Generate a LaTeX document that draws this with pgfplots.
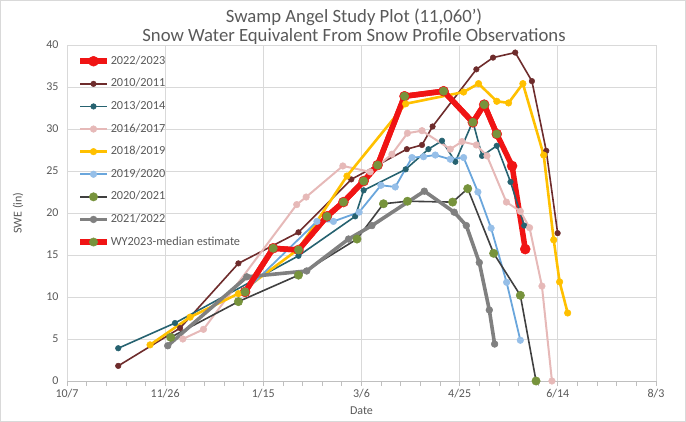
\documentclass[border=0pt]{standalone}
\usepackage{fontspec}
\setmainfont{Carlito}
\usepackage{pgfplots}
\pgfplotsset{compat=1.18}

\definecolor{txtgray}{HTML}{595959}
\definecolor{gridgray}{HTML}{D9D9D9}
\definecolor{axgray}{HTML}{BFBFBF}
\definecolor{cRed}{HTML}{F01414}
\definecolor{cMaroon}{HTML}{6E2C2C}
\definecolor{cTeal}{HTML}{266270}
\definecolor{cPink}{HTML}{E6B9B8}
\definecolor{cGold}{HTML}{FFC000}
\definecolor{cBlue}{HTML}{6AA6DC}
\definecolor{cBlueM}{HTML}{96BFE8}
\definecolor{cDark}{HTML}{404040}
\definecolor{cOlive}{HTML}{77933C}
\definecolor{cGray}{HTML}{808080}

\begin{document}
\begin{tikzpicture}
\useasboundingbox (0,0) rectangle (686bp,422bp);
\draw[gridgray] (0.5bp,0.5bp) rectangle (685.5bp,421.5bp);
\node[text=txtgray, font=\fontsize{18.7bp}{22bp}\selectfont] at (354bp,405bp) {Swamp Angel Study Plot (11,060')};
\node[text=txtgray, font=\fontsize{18.7bp}{22bp}\selectfont] at (354bp,385bp) {Snow Water Equivalent From Snow Profile Observations};
\begin{axis}[
    at={(67bp,41bp)}, anchor=south west,
    width=589bp, height=336bp, scale only axis,
    xmin=0, xmax=300, ymin=0, ymax=40,
    xtick={0,50,100,150,200,250,300},
    xticklabels={10/7,11/26,1/15,3/6,4/25,6/14,8/3},
    minor x tick num=4,
    ytick={0,5,10,15,20,25,30,35,40},
    /pgf/number format/assume math mode=true,
    grid=major,
    major grid style={gridgray, line width=0.8bp},
    axis x line*=bottom, axis y line*=left,
    x axis line style={axgray, line width=0.8bp, -},
    y axis line style={draw=none},
    xtick pos=bottom,
    tick align=outside,
    major tick length=5bp, minor tick length=5bp,
    x tick style={axgray, line width=0.8bp},
    y tick style={draw=none},
    tick label style={font=\fontsize{12bp}{14bp}\selectfont, text=txtgray},
    xlabel={Date}, ylabel={SWE (in)},
    label style={font=\fontsize{12bp}{14bp}\selectfont, text=txtgray},
    xlabel style={at={(axis description cs:0.5,-0.089)}, anchor=center},
    ylabel style={at={(axis description cs:-0.083,0.5)}, anchor=center},
    clip=false,
    legend cell align=left,
    legend style={at={(0.012,0.979)}, anchor=north west, draw=none, fill=none,
        font=\fontsize{12.3bp}{14bp}\selectfont, text=txtgray, row sep=8.6bp,
        nodes={inner sep=1bp, text height=9bp, text depth=3bp}},
    legend image code/.code={\draw[mark repeat=2, mark phase=2, #1]
        plot coordinates {(0bp,0bp) (13.5bp,0bp) (27bp,0bp)};},
]
% 2022/2023
\addplot[cRed, line width=5.5bp, line join=round, mark=*, mark size=5bp,
    mark options={fill=cRed, draw=cRed, line width=0.5bp}] coordinates {
    (90.7,10.6) (105.0,15.8) (117.9,15.6) (132.4,19.6) (140.8,21.3) (151.1,23.8)
    (158.2,25.7) (171.9,33.9) (191.8,34.5) (206.7,30.8) (212.5,32.9) (218.9,29.4)
    (226.7,25.6) (233.4,15.7)};
\addlegendentry{2022/2023}
% 2010/2011
\addplot[cMaroon, line width=1.6bp, mark=*, mark size=2.8bp,
    mark options={fill=cMaroon, draw=cMaroon, line width=0.5bp}] coordinates {
    (26.1,1.8) (57.6,6.3) (87.3,14.0) (117.9,17.7) (144.8,24.0) (173.1,27.6)
    (180.8,28.1) (186.2,30.3) (208.5,37.1) (217.0,38.5) (228.3,39.1) (236.8,35.7)
    (244.1,27.4) (249.9,17.6)};
\addlegendentry{2010/2011}
% 2013/2014
\addplot[cTeal, line width=1.6bp, mark=*, mark size=2.8bp,
    mark options={fill=cTeal, draw=cTeal, line width=0.5bp}] coordinates {
    (26.1,3.9) (55.0,6.9) (117.9,14.9) (146.8,19.6) (151.1,22.7) (172.5,25.2)
    (184.1,27.6) (191.0,28.6) (197.8,26.1) (206.7,30.9) (211.4,26.8) (218.9,28.0)
    (225.9,23.7) (232.9,18.5)};
\addlegendentry{2013/2014}
% 2016/2017
\addplot[cPink, line width=2bp, mark=*, mark size=3.3bp,
    mark options={fill=cPink, draw=cPink, line width=0.5bp}] coordinates {
    (59.0,5.0) (69.5,6.15) (117.0,21.0) (121.8,21.9) (140.5,25.6) (154.4,24.9)
    (165.5,27.0) (173.4,29.5) (180.8,29.8) (195.2,27.6) (201.2,28.5) (208.5,28.1)
    (213.9,26.8) (223.8,21.3) (230.9,20.2) (235.6,18.25) (241.9,11.3) (247.0,0)};
\addlegendentry{2016/2017}
% 2018/2019
\addplot[cGold, line width=2.6bp, mark=*, mark size=3.3bp,
    mark options={fill=cGold, draw=cGold, line width=0.5bp}] coordinates {
    (42.3,4.3) (62.7,7.6) (87.3,10.4) (117.9,15.7) (142.6,24.4) (172.5,33.0)
    (202.0,34.4) (209.6,35.4) (218.9,33.3) (224.9,33.1) (232.2,35.4) (242.8,26.9)
    (247.9,16.8) (250.9,11.8) (255.0,8.1)};
\addlegendentry{2018/2019}
% 2019/2020
\addplot[cBlue, line width=1.8bp, mark=*, mark size=3.3bp,
    mark options={fill=cBlueM, draw=cBlueM, line width=0.5bp}] coordinates {
    (90.7,10.7) (127.3,19.0) (135.7,19.0) (148.8,20.1) (159.9,23.3) (167.2,23.1)
    (175.7,26.6) (181.6,26.7) (187.6,26.9) (195.2,26.4) (202.0,26.6) (209.3,22.5)
    (216.0,18.2) (223.9,11.75) (230.9,4.85)};
\addlegendentry{2019/2020}
% 2020/2021
\addplot[cDark, line width=1.6bp, mark=*, mark size=4.2bp,
    mark options={fill=cOlive, draw=cOlive, line width=0.5bp}] coordinates {
    (52.8,5.2) (87.3,9.45) (117.9,12.6) (147.7,16.9) (161.2,21.1) (173.4,21.4)
    (196.4,21.3) (204.1,22.9) (217.3,15.2) (230.9,10.2) (238.9,0)};
\addlegendentry{2020/2021}
% 2021/2022
\addplot[cGray, line width=3.6bp, line join=round, mark=*, mark size=3.4bp,
    mark options={fill=cGray, draw=cGray, line width=0.5bp}] coordinates {
    (51.3,4.2) (91.6,12.4) (122.1,13.1) (143.4,16.9) (155.3,18.5) (182.0,22.6)
    (197.2,20.1) (203.4,18.5) (210.0,14.1) (215.1,8.45) (217.8,4.4)};
\addlegendentry{2021/2022}
% WY2023-median estimate
\addplot[cRed, line width=5.5bp, line join=round, mark=*, mark size=4.2bp,
    mark options={fill=cOlive, draw=cOlive, line width=0.5bp}] coordinates {
    (90.7,10.6) (105.0,15.8) (117.9,15.6) (132.4,19.6) (140.8,21.3) (151.1,23.8)
    (158.2,25.7) (171.9,33.9) (191.8,34.5) (206.7,30.8) (212.5,32.9) (218.9,29.4)};
\addlegendentry{WY2023-median estimate}
\end{axis}
\end{tikzpicture}
\end{document}
